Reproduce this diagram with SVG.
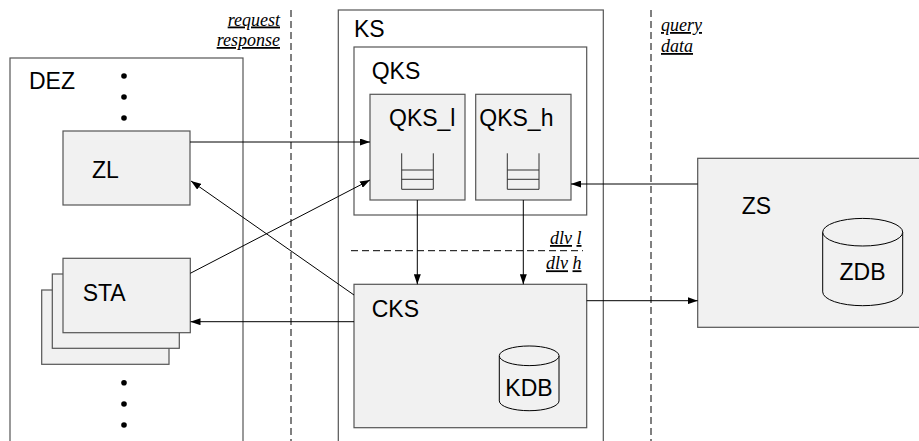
<svg xmlns="http://www.w3.org/2000/svg" width="919" height="441" viewBox="0 0 919 441">
  <defs>
    <marker id="arrow" viewBox="0 0 10 7" refX="10" refY="3.5" markerWidth="10" markerHeight="7" orient="auto" markerUnits="userSpaceOnUse">
      <path d="M0,0 L10,3.5 L0,7 z" fill="#000"/>
    </marker>
  </defs>
  <style>
    .frame { fill: none; stroke: #555; stroke-width: 1.2; }
    .node { fill: #f1f1f1; stroke: #555; stroke-width: 1.2; }
    .lbl { font-family: "Liberation Sans", Arial, sans-serif; font-size: 23px; fill: #000; }
    .note { font-family: "Liberation Serif", "Times New Roman", serif; font-style: italic; font-size: 18px; fill: #000; }
    .ul { text-decoration: underline; }
    .sep { fill: none; stroke: #000; stroke-width: 1; stroke-dasharray: 7 4; }
    .conn { fill: none; stroke: #000; stroke-width: 1; marker-end: url(#arrow); }
    .db { fill: #f1f1f1; stroke: #000; stroke-width: 1; }
    .queue { fill: none; stroke: #333; stroke-width: 1; }
    .dot { fill: #000; }
  </style>

  <!-- protocol boundaries -->
  <g id="boundaries">
    <line class="sep" x1="291" y1="10" x2="291" y2="441"/>
    <line class="sep" x1="651" y1="10" x2="651" y2="441"/>
    <line class="sep" x1="351" y1="250.7" x2="583" y2="250.7"/>
    <text class="note ul" x="280" y="25.5" text-anchor="end">request</text>
    <text class="note ul" x="280" y="46" text-anchor="end">response</text>
    <text class="note ul" x="661" y="31">query</text>
    <text class="note ul" x="661" y="52">data</text>
    <text class="note" x="581.5" y="244" text-anchor="end"><tspan class="ul">dlv</tspan> <tspan class="ul">l</tspan></text>
    <text class="note" x="581.5" y="269.3" text-anchor="end"><tspan class="ul">dlv</tspan> <tspan class="ul">h</tspan></text>
  </g>

  <!-- DEZ domain -->
  <g id="DEZ">
    <rect class="frame" x="10" y="58" width="233" height="400"/>
    <text class="lbl" x="29" y="88.5">DEZ</text>
    <circle class="dot" cx="124" cy="76" r="2.8"/>
    <circle class="dot" cx="124" cy="97" r="2.8"/>
    <circle class="dot" cx="124" cy="118" r="2.8"/>
    <circle class="dot" cx="124" cy="382.7" r="2.8"/>
    <circle class="dot" cx="124" cy="404" r="2.8"/>
    <circle class="dot" cx="124" cy="425" r="2.8"/>
  </g>

  <g id="ZL">
    <rect class="node" x="63" y="131" width="127" height="74"/>
    <text class="lbl" x="92" y="178">ZL</text>
  </g>

  <g id="STA">
    <rect class="node" x="41.7" y="290" width="127.3" height="74.3" stroke="#000"/>
    <rect class="node" x="52.3" y="274" width="127" height="74.3" stroke="#000"/>
    <rect class="node" x="63" y="258.3" width="127.3" height="74.4"/>
    <text class="lbl" x="82.7" y="301">STA</text>
  </g>

  <!-- KS server -->
  <g id="KS">
    <rect class="frame" x="338.3" y="10" width="265" height="460"/>
    <text class="lbl" x="354" y="36.5">KS</text>
  </g>

  <g id="QKS">
    <rect class="frame" x="354" y="47" width="232.7" height="168"/>
    <text class="lbl" x="371.7" y="78.7">QKS</text>
  </g>

  <g id="QKS_l">
    <rect class="node" x="370" y="94.3" width="95" height="105.7"/>
    <text class="lbl" x="389" y="126">QKS_l</text>
    <path class="queue" d="M401.7,153.3 V189.3 H433.3 V153.3 M401.7,170 H433.3 M401.7,179.3 H433.3"/>
  </g>

  <g id="QKS_h">
    <rect class="node" x="475.7" y="94.3" width="95.3" height="105.7"/>
    <text class="lbl" x="479.3" y="126">QKS_h</text>
    <path class="queue" d="M507.3,153.3 V189.3 H539 V153.3 M507.3,170 H539 M507.3,179.3 H539"/>
  </g>

  <g id="CKS">
    <rect class="node" x="354" y="284.3" width="232.7" height="143.4"/>
    <text class="lbl" x="371.7" y="316.7">CKS</text>
  </g>

  <g id="KDB">
    <path class="db" d="M499.3,355.8 V400.9 A29.8,9.8 0 0 0 559,400.9 V355.8 A29.8,9.8 0 0 0 499.3,355.8 Z"/>
    <path class="db" fill="none" d="M499.3,355.8 A29.8,9.8 0 0 0 559,355.8"/>
    <text class="lbl" x="529" y="395.7" text-anchor="middle">KDB</text>
  </g>

  <!-- ZS server -->
  <g id="ZS">
    <rect class="node" x="697.7" y="158.3" width="240" height="169"/>
    <text class="lbl" x="741.7" y="214">ZS</text>
  </g>

  <g id="ZDB">
    <path class="db" d="M822.7,232.2 V291.9 A40,13.8 0 0 0 902.7,291.9 V232.2 A40,13.8 0 0 0 822.7,232.2 Z"/>
    <path class="db" fill="none" d="M822.7,232.2 A40,13.8 0 0 0 902.7,232.2"/>
    <text class="lbl" x="862.5" y="280" text-anchor="middle">ZDB</text>
  </g>

  <!-- connectors -->
  <g id="connectors">
    <path class="conn" d="M190,142 H370"/>
    <path class="conn" d="M190.3,273.3 L370,180"/>
    <path class="conn" d="M354,295 L191,181"/>
    <path class="conn" d="M354,321.7 H190.5"/>
    <path class="conn" d="M417.3,200 V284.3"/>
    <path class="conn" d="M523.3,200 V284.3"/>
    <path class="conn" d="M697.7,184 H571"/>
    <path class="conn" d="M586.7,300.7 H697.7"/>
  </g>
</svg>
